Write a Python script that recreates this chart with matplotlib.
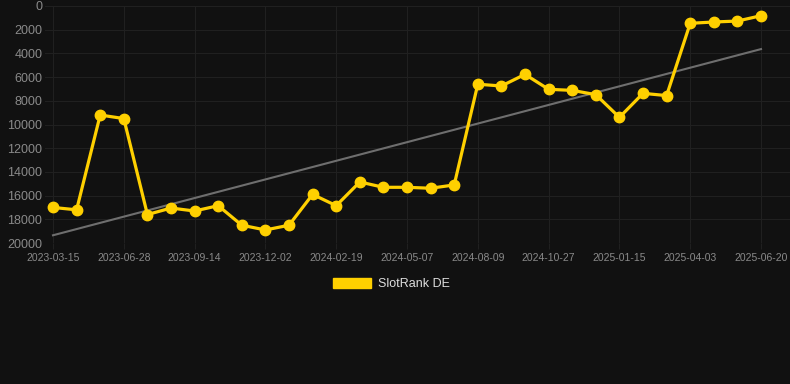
import matplotlib
matplotlib.use("Agg")
import matplotlib.pyplot as plt
import matplotlib.patches as mpatches
import numpy as np

plt.rcParams['font.family'] = ['Liberation Sans', 'DejaVu Sans']

tick_labels = ["2023-03-15", "2023-06-28", "2023-09-14", "2023-12-02", "2024-02-19",
               "2024-05-07", "2024-08-09", "2024-10-27", "2025-01-15", "2025-04-03",
               "2025-06-20"]
ranks = [17000, 17200, 9200, 9500, 17600, 17050, 17300, 16850, 18500, 18900,
         18500, 15900, 16850, 14850, 15300, 15300, 15380, 15100, 6600, 6750,
         5770, 7030, 7120, 7480, 9400, 7370, 7560, 1460, 1350, 1270, 820]
series_name = "SlotRank DE"

bg = "#111111"
gold = "#FFD000"
grid_c = "#202020"
tick_c = "#8a8a8a"

fig = plt.figure(figsize=(7.9, 3.84), dpi=100, facecolor=bg)
ax = fig.add_axes([45/790, 1-243/384, 1-45/790, (243-6)/384])
ax.set_facecolor(bg)

x = np.arange(len(ranks))
coef = np.polyfit(x, ranks, 1)
ax.plot(x, np.polyval(coef, x), color="#6e6e6e", lw=1.5, zorder=2)
ax.plot(x, ranks, color=gold, lw=2.3, marker="o", markersize=7.5, zorder=3)

ax.set_ylim(20000, 0)
ax.set_yticks(np.arange(0, 20001, 2000))
ax.set_xlim(-(53-45)/23.6, 30 + (790-761)/23.6)
ax.set_xticks(x[::3])
ax.set_xticklabels(tick_labels)
ax.grid(True, color=grid_c, lw=0.8)
ax.set_axisbelow(True)
for s in ax.spines.values():
    s.set_visible(False)
ax.tick_params(axis='y', length=0, labelsize=9, colors=tick_c, pad=2)
ax.tick_params(axis='x', length=4, color=grid_c, labelsize=7.5, labelcolor=tick_c, pad=3)

handle = mpatches.Patch(color=gold, label=series_name)
fig.legend(handles=[handle], loc='center', bbox_to_anchor=(391/790, 1-284/384),
           frameon=False, fontsize=9, labelcolor="#dddddd",
           handlelength=3.1, handleheight=0.9, handletextpad=0.5)

fig.savefig("out.png", dpi=100, facecolor=bg)
